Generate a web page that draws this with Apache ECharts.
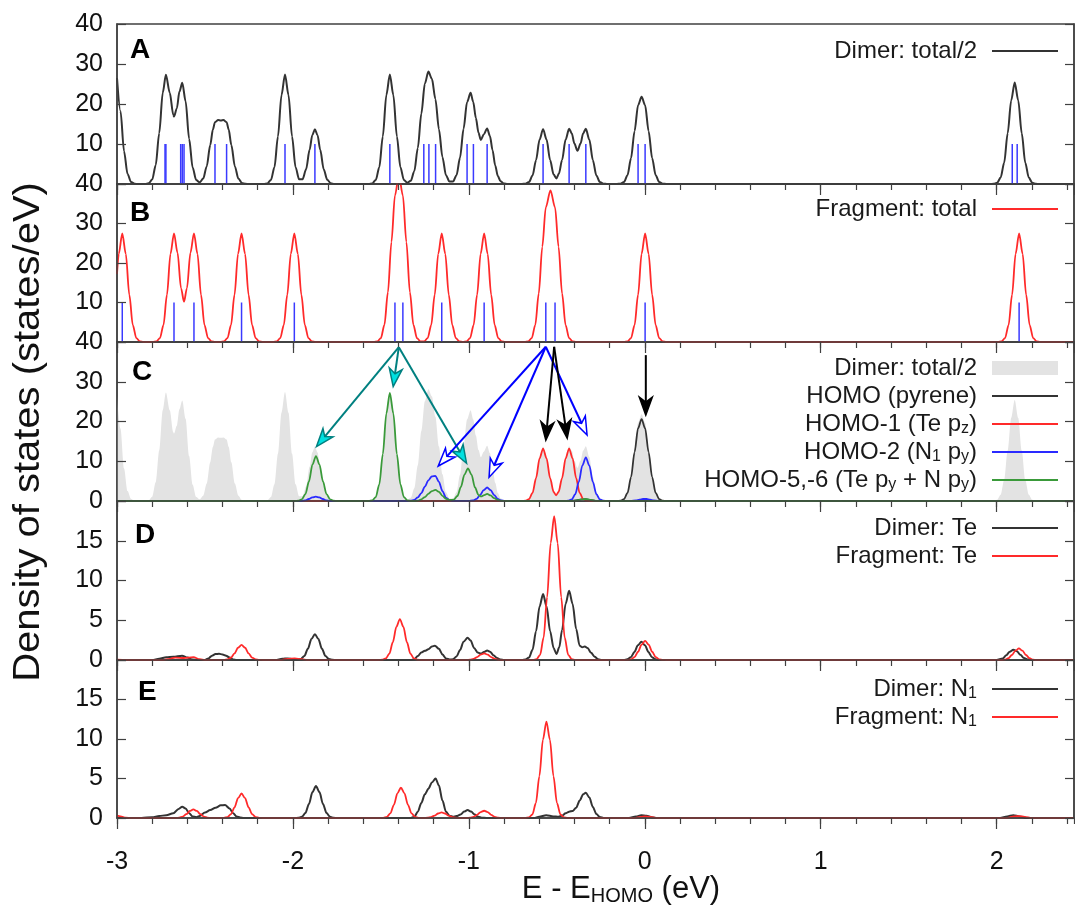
<!DOCTYPE html>
<html>
<head>
<meta charset="utf-8">
<script src="https://cdn.jsdelivr.net/npm/echarts@6/dist/echarts.min.js"></script>
<style>
  html, body { margin: 0; padding: 0; background: #fff; }
  #chart { width: 1075px; height: 910px; }
</style>
</head>
<body>
<div id="chart"></div>
<script>
// DOS curves, [E - E_HOMO (eV), states/eV]
const dimerTotal = [
  [-3.0,26.5],[-2.98,18.2],[-2.96,8.2],[-2.94,2.5],[-2.92,0.5],[-2.90,0.05],[-2.88,0],
  [-2.84,0],[-2.82,0.18],[-2.80,1.1],[-2.78,4.7],[-2.76,12.7],[-2.74,22.8],[-2.722,27.3],[-2.70,22.8],[-2.68,17.3],[-2.676,16.9],[-2.66,18.9],[-2.645,23.1],[-2.629,25.3],[-2.61,20.7],[-2.59,11.3],[-2.57,4.1],[-2.55,1.0],[-2.53,0.42],
  [-2.51,1.35],[-2.49,4.4],[-2.47,9.75],[-2.455,13.6],[-2.443,15.45],[-2.425,16.0],[-2.41,15.9],[-2.395,16.0],[-2.377,15.45],[-2.365,13.6],[-2.35,9.75],[-2.33,4.4],[-2.31,1.35],[-2.29,0.27],[-2.27,0.04],[-2.25,0],
  [-2.165,0],[-2.145,0.15],[-2.125,1.0],[-2.105,4.2],[-2.085,11.9],[-2.065,22.2],[-2.045,27.4],[-2.025,22.2],[-2.005,11.9],[-1.985,4.2],[-1.965,1.2],[-1.945,1.2],[-1.925,3.7],[-1.905,8.6],[-1.89,12.2],[-1.875,13.7],[-1.86,12.2],[-1.845,8.6],[-1.825,3.7],[-1.805,1.07],[-1.785,0.2],[-1.765,0],
  [-1.569,0],[-1.549,0.15],[-1.529,1.0],[-1.509,4.2],[-1.489,11.9],[-1.469,22.2],[-1.449,27.4],[-1.429,22.2],[-1.409,11.9],[-1.389,4.2],[-1.369,1.0],[-1.35,0.3],[-1.33,0.82],[-1.31,3.2],[-1.29,9.0],[-1.27,17.6],[-1.25,25.1],[-1.23,28.1],[-1.21,26.3],[-1.19,21.2],[-1.17,13.7],[-1.15,6.7],[-1.13,2.2],[-1.11,0.6],[-1.09,0.6],
  [-1.07,2.2],[-1.05,6.6],[-1.03,13.8],[-1.01,20.5],[-0.99,22.8],[-0.975,20.5],[-0.96,16.5],[-0.945,12.8],[-0.932,11.0],[-0.915,12.4],[-0.896,13.9],[-0.88,12.0],[-0.865,8.4],[-0.85,4.6],[-0.835,2.0],[-0.82,0.7],[-0.80,0.12],[-0.78,0],
  [-0.698,0],[-0.678,0.08],[-0.658,0.49],[-0.638,2.1],[-0.618,5.96],[-0.598,11.1],[-0.578,13.7],[-0.558,11.1],[-0.538,6.0],[-0.518,2.35],[-0.502,1.4],[-0.488,2.6],[-0.47,6.0],[-0.45,11.1],[-0.43,13.8],[-0.415,12.7],[-0.40,10.1],[-0.3825,8.3],[-0.365,10.1],[-0.35,12.7],[-0.335,13.8],[-0.315,11.1],[-0.295,5.96],[-0.275,2.1],[-0.255,0.49],[-0.235,0.08],[-0.215,0],
  [-0.158,0],[-0.138,0.08],[-0.118,0.5],[-0.098,2.2],[-0.078,6.45],[-0.058,13.2],[-0.038,19.7],[-0.018,21.8],[0.002,19.7],[0.022,13.2],[0.042,6.45],[0.062,2.2],[0.082,0.5],[0.102,0.08],[0.122,0],
  [1.963,0],[1.983,0.04],[2.003,0.3],[2.023,1.6],[2.043,5.3],[2.063,12.7],[2.083,20.9],[2.103,25.4],[2.123,20.9],[2.143,12.7],[2.163,5.3],[2.183,1.6],[2.203,0.3],[2.223,0.04],[2.243,0],[2.44,0]
];

const fragTotal = [
  [-3.0,17.2],[-2.99,22.3],[-2.97,27.5],[-2.95,22.3],[-2.93,11.96],[-2.91,4.24],[-2.89,0.98],[-2.87,0.15],[-2.85,0],
  [-2.796,0],[-2.776,0.15],[-2.756,0.98],[-2.736,4.24],[-2.716,11.96],[-2.696,22.3],[-2.676,27.5],[-2.656,22.6],[-2.636,13.6],[-2.619,10.2],[-2.6025,13.6],[-2.5825,22.6],[-2.5625,27.5],[-2.5425,22.3],[-2.5225,11.96],[-2.5025,4.24],[-2.4825,0.98],[-2.4625,0.15],[-2.4425,0],
  [-2.412,0],[-2.392,0.15],[-2.372,0.98],[-2.352,4.24],[-2.332,11.96],[-2.312,22.3],[-2.292,27.5],[-2.272,22.3],[-2.252,11.96],[-2.232,4.24],[-2.212,0.98],[-2.192,0.15],[-2.172,0],
  [-2.112,0],[-2.092,0.15],[-2.072,0.98],[-2.052,4.24],[-2.032,11.96],[-2.012,22.3],[-1.992,27.5],[-1.972,22.3],[-1.952,11.96],[-1.932,4.24],[-1.912,0.98],[-1.892,0.15],[-1.872,0],
  [-1.54,0],[-1.52,0.15],[-1.50,0.98],[-1.48,4.33],[-1.46,12.6],[-1.44,25.3],[-1.42,37.1],[-1.3975,42.2],[-1.375,37.1],[-1.355,25.3],[-1.335,12.6],[-1.315,4.33],[-1.295,0.98],[-1.275,0.18],[-1.254,0.18],
  [-1.234,0.98],[-1.214,4.24],[-1.194,11.96],[-1.174,22.3],[-1.154,27.5],[-1.134,22.3],[-1.114,11.96],[-1.094,4.24],[-1.074,0.98],[-1.054,0.15],[-1.033,0],
  [-1.013,0.15],[-0.993,0.98],[-0.973,4.24],[-0.953,11.96],[-0.933,22.3],[-0.913,27.5],[-0.893,22.3],[-0.873,11.96],[-0.853,4.24],[-0.833,0.98],[-0.813,0.15],[-0.793,0],
  [-0.6825,0],[-0.6625,0.15],[-0.6425,0.98],[-0.6225,4.28],[-0.6025,12.3],[-0.5825,24.1],[-0.5625,34.1],[-0.536,38.4],[-0.51,34.1],[-0.49,24.1],[-0.47,12.3],[-0.45,4.28],[-0.43,0.98],[-0.41,0.15],[-0.39,0],
  [-0.118,0],[-0.098,0.15],[-0.078,0.98],[-0.058,4.24],[-0.038,11.96],[-0.018,22.3],[0.002,27.5],[0.022,22.3],[0.042,11.96],[0.062,4.24],[0.082,0.98],[0.102,0.15],[0.122,0],
  [2.008,0],[2.028,0.15],[2.048,0.98],[2.068,4.24],[2.088,11.96],[2.108,22.3],[2.128,27.5],[2.148,22.3],[2.168,11.96],[2.188,4.24],[2.208,0.98],[2.228,0.15],[2.248,0],[2.44,0]
];

// eigenvalue sticks (height in states/eV)
const sticksDimer = [-2.727,-2.722,-2.638,-2.629,-2.619,-2.443,-2.377,-2.045,-1.875,-1.449,-1.256,-1.227,-1.189,-1.010,-0.974,-0.896,-0.578,-0.430,-0.335,-0.038,0.002,2.089,2.117];
const sticksFrag = [-2.970,-2.676,-2.5625,-2.292,-1.992,-1.420,-1.375,-1.154,-0.913,-0.5625,-0.510,0.002,2.128];
const stickHeight = 10;

// panel C: orbital projections
const homoPyrene = [
  [-3.0,0],[-0.42,0],[-0.39,0.15],[-0.36,0.4],[-0.335,0.45],[-0.31,0.3],[-0.28,0.05],[-0.25,0],
  [-0.158,0],[-0.138,0.07],[-0.118,0.46],[-0.098,2.04],[-0.078,6.0],[-0.058,12.25],[-0.038,18.3],[-0.018,20.6],[0.002,18.3],[0.022,12.25],[0.042,6.0],[0.062,2.04],[0.082,0.46],[0.102,0.07],[0.122,0],[2.44,0]
];
const homo1Tepz = [
  [-3.0,0],[-0.698,0],[-0.678,0.07],[-0.658,0.48],[-0.638,2.03],[-0.618,5.74],[-0.598,10.7],[-0.578,13.2],[-0.558,10.7],[-0.538,5.74],[-0.518,2.27],[-0.504,1.45],[-0.49,2.27],[-0.47,5.77],[-0.45,10.7],[-0.43,13.2],[-0.41,10.7],[-0.39,5.74],[-0.37,2.03],[-0.35,0.48],[-0.33,0.07],[-0.31,0],[2.44,0]
];
const homo2N1py = [
  [-3.0,0],[-1.95,0],[-1.93,0.15],[-1.91,0.5],[-1.89,0.9],[-1.87,1.1],[-1.85,0.9],[-1.83,0.5],[-1.81,0.15],[-1.79,0],
  [-1.35,0],[-1.33,0.07],[-1.31,0.29],[-1.29,0.9],[-1.27,2.0],[-1.25,3.6],[-1.23,5.2],[-1.21,6.2],[-1.19,6.3],[-1.17,4.8],[-1.15,2.5],[-1.13,0.85],[-1.11,0.2],[-1.09,0.03],
  [-1.0,0.02],[-0.976,0.12],[-0.956,0.52],[-0.936,1.48],[-0.916,2.75],[-0.896,3.4],[-0.876,2.75],[-0.856,1.48],[-0.836,0.52],[-0.816,0.12],[-0.796,0.02],[-0.776,0],
  [-0.455,0],[-0.435,0.06],[-0.415,0.4],[-0.395,1.7],[-0.375,4.8],[-0.355,8.9],[-0.335,11.0],[-0.315,8.9],[-0.295,4.8],[-0.275,1.7],[-0.255,0.4],[-0.235,0.06],[-0.215,0],
  [-0.08,0],[-0.05,0.15],[-0.03,0.35],[-0.01,0.5],[0.01,0.5],[0.03,0.35],[0.05,0.15],[0.08,0],[2.44,0]
];
const homo56 = [
  [-3.0,0],[-1.989,0],[-1.969,0.06],[-1.949,0.41],[-1.929,1.74],[-1.909,4.9],[-1.889,9.15],[-1.869,11.3],[-1.849,9.15],[-1.829,4.9],[-1.809,1.74],[-1.789,0.41],[-1.769,0.06],[-1.749,0],
  [-1.569,0],[-1.549,0.15],[-1.529,0.98],[-1.509,4.2],[-1.489,11.8],[-1.469,22.0],[-1.449,27.2],[-1.429,22.0],[-1.409,11.8],[-1.389,4.2],[-1.369,0.98],[-1.349,0.15],[-1.329,0],
  [-1.31,0],[-1.29,0.1],[-1.27,0.4],[-1.25,1.0],[-1.23,1.8],[-1.21,2.5],[-1.19,2.8],[-1.17,2.3],[-1.15,1.3],[-1.13,0.55],[-1.11,0.25],
  [-1.085,0.35],[-1.065,1.26],[-1.045,3.57],[-1.025,6.64],[-1.005,8.2],[-0.985,6.64],[-0.965,3.4],[-0.945,1.5],[-0.93,1.15],[-0.912,1.5],[-0.896,1.8],[-0.876,1.4],[-0.856,0.7],[-0.836,0.25],[-0.816,0.05],[-0.796,0],
  [-0.43,0],[-0.40,0.05],[-0.37,0.3],[-0.34,0.5],[-0.31,0.3],[-0.28,0.05],[-0.25,0],[2.44,0]
];

// panel D: Te projections
const dimerTe = [
  [-3.0,0],[-2.80,0],[-2.76,0.15],[-2.72,0.35],[-2.68,0.4],[-2.63,0.55],[-2.60,0.3],[-2.57,0.05],[-2.54,0],
  [-2.50,0],[-2.48,0.2],[-2.46,0.55],[-2.44,0.75],[-2.42,0.78],[-2.40,0.7],[-2.38,0.55],[-2.36,0.3],[-2.34,0.05],[-2.32,0],
  [-2.10,0],[-2.06,0.15],[-2.03,0.2],[-2.0,0.12],[-1.975,0.05],[-1.955,0.13],[-1.935,0.5],[-1.915,1.41],[-1.895,2.63],[-1.875,3.25],[-1.855,2.63],[-1.835,1.41],[-1.815,0.5],[-1.795,0.12],[-1.775,0.02],[-1.755,0],
  [-1.33,0],[-1.31,0.1],[-1.29,0.5],[-1.27,0.95],[-1.25,1.15],[-1.23,1.35],[-1.21,1.7],[-1.193,1.8],[-1.17,1.4],[-1.15,0.7],[-1.13,0.2],[-1.11,0.05],
  [-1.09,0.1],[-1.07,0.45],[-1.05,1.25],[-1.03,2.3],[-1.007,2.8],[-0.99,2.45],[-0.97,1.5],[-0.95,0.95],[-0.93,0.8],[-0.91,1.05],[-0.896,1.2],[-0.88,1.05],[-0.86,0.6],[-0.84,0.25],[-0.82,0.05],[-0.80,0],
  [-0.698,0],[-0.678,0.05],[-0.658,0.3],[-0.638,1.28],[-0.618,3.61],[-0.598,6.72],[-0.578,8.3],[-0.558,6.72],[-0.538,3.61],[-0.518,1.5],[-0.502,0.75],[-0.486,1.6],[-0.47,3.78],[-0.45,7.05],[-0.43,8.7],[-0.41,7.05],[-0.39,3.9],[-0.37,1.8],[-0.355,1.6],[-0.341,1.7],[-0.325,1.5],[-0.305,0.9],[-0.285,0.4],[-0.265,0.1],[-0.245,0],
  [-0.139,0],[-0.119,0.01],[-0.099,0.08],[-0.079,0.35],[-0.059,1.0],[-0.039,1.86],[-0.019,2.3],[0.001,1.86],[0.021,1.0],[0.041,0.35],[0.061,0.08],[0.081,0],
  [2.0,0],[2.035,0.2],[2.055,0.6],[2.075,1.05],[2.095,1.3],[2.115,1.1],[2.135,0.65],[2.155,0.25],[2.18,0.05],[2.2,0],[2.44,0]
];
const fragTe = [
  [-3.0,0.05],[-2.95,0],[-2.74,0],[-2.70,0.15],[-2.67,0.3],[-2.62,0.25],[-2.565,0.35],[-2.53,0.1],[-2.50,0],
  [-2.392,0.01],[-2.372,0.07],[-2.352,0.29],[-2.332,0.83],[-2.312,1.54],[-2.292,1.9],[-2.272,1.54],[-2.252,0.83],[-2.232,0.29],[-2.212,0.07],[-2.192,0.01],[-2.17,0],
  [-2.07,0],[-2.03,0.15],[-1.99,0.2],[-1.95,0.1],[-1.92,0],
  [-1.512,0],[-1.492,0.03],[-1.472,0.19],[-1.452,0.79],[-1.432,2.24],[-1.412,4.17],[-1.392,5.15],[-1.372,4.17],[-1.352,2.24],[-1.332,0.79],[-1.312,0.19],[-1.292,0.03],[-1.272,0],
  [-1.013,0],[-0.993,0.03],[-0.973,0.13],[-0.953,0.37],[-0.933,0.68],[-0.913,0.84],[-0.893,0.68],[-0.873,0.37],[-0.853,0.13],[-0.833,0.03],[-0.813,0],
  [-0.635,0],[-0.615,0.1],[-0.595,0.65],[-0.575,2.8],[-0.555,7.9],[-0.535,14.7],[-0.515,18.1],[-0.495,14.7],[-0.475,7.9],[-0.455,2.8],[-0.435,0.65],[-0.415,0.1],[-0.395,0],
  [-0.118,0],[-0.098,0.01],[-0.078,0.09],[-0.058,0.37],[-0.038,1.04],[-0.018,1.94],[0.002,2.4],[0.022,1.94],[0.042,1.04],[0.062,0.37],[0.082,0.09],[0.102,0.01],[0.122,0],
  [2.027,0],[2.047,0.05],[2.067,0.22],[2.087,0.63],[2.107,1.17],[2.127,1.45],[2.147,1.17],[2.167,0.63],[2.187,0.22],[2.207,0.05],[2.227,0],[2.44,0]
];

// panel E: N1 projections
const dimerN1 = [
  [-3.0,0],[-2.86,0],[-2.80,0.1],[-2.76,0.25],[-2.72,0.35],[-2.68,0.6],[-2.65,1.15],[-2.629,1.43],[-2.61,1.2],[-2.59,0.6],[-2.57,0.2],[-2.55,0.1],[-2.53,0.25],[-2.50,0.7],[-2.47,1.0],[-2.44,1.3],[-2.41,1.6],[-2.386,1.65],[-2.36,1.2],[-2.34,0.6],[-2.32,0.2],[-2.30,0.05],[-2.28,0],
  [-1.989,0],[-1.969,0.02],[-1.949,0.15],[-1.929,0.62],[-1.909,1.76],[-1.889,3.28],[-1.869,4.05],[-1.849,3.28],[-1.829,1.76],[-1.809,0.62],[-1.789,0.15],[-1.769,0.02],[-1.749,0],
  [-1.33,0],[-1.31,0.15],[-1.29,0.8],[-1.27,1.9],[-1.25,3.0],[-1.23,3.7],[-1.21,4.5],[-1.189,5.0],[-1.17,4.1],[-1.15,2.2],[-1.13,0.8],[-1.11,0.3],[-1.09,0.15],
  [-1.07,0.25],[-1.047,0.44],[-1.027,0.81],[-1.007,1.0],[-0.987,0.81],[-0.967,0.44],[-0.947,0.15],[-0.927,0.04],[-0.9,0],
  [-0.63,0],[-0.60,0.15],[-0.56,0.35],[-0.52,0.2],[-0.49,0.15],[-0.47,0.3],[-0.45,0.6],[-0.43,0.8],[-0.41,0.9],[-0.39,1.3],[-0.37,2.2],[-0.35,3.0],[-0.335,3.2],[-0.315,2.6],[-0.295,1.4],[-0.275,0.5],[-0.255,0.12],[-0.235,0],
  [-0.09,0],[-0.05,0.2],[-0.02,0.35],[0.01,0.3],[0.04,0.1],[0.07,0],
  [2.02,0],[2.06,0.2],[2.095,0.35],[2.13,0.2],[2.17,0],[2.44,0]
];
const fragN1 = [
  [-3.0,0.3],[-2.98,0.2],[-2.95,0.05],[-2.92,0],
  [-2.666,0],[-2.646,0.04],[-2.626,0.17],[-2.606,0.48],[-2.586,0.89],[-2.566,1.1],[-2.546,0.89],[-2.526,0.48],[-2.506,0.17],[-2.486,0.04],[-2.466,0.01],
  [-2.412,0],[-2.392,0.02],[-2.372,0.11],[-2.352,0.48],[-2.332,1.35],[-2.312,2.51],[-2.292,3.1],[-2.272,2.51],[-2.252,1.35],[-2.232,0.48],[-2.212,0.11],[-2.192,0.02],[-2.172,0],
  [-1.506,0],[-1.486,0.02],[-1.466,0.14],[-1.446,0.59],[-1.426,1.67],[-1.406,3.12],[-1.386,3.85],[-1.366,3.12],[-1.346,1.67],[-1.326,0.59],[-1.306,0.14],[-1.286,0.02],[-1.266,0],
  [-1.255,0],[-1.235,0.03],[-1.215,0.11],[-1.195,0.3],[-1.175,0.57],[-1.155,0.7],[-1.135,0.57],[-1.115,0.3],[-1.095,0.11],[-1.075,0.03],[-1.055,0],
  [-1.013,0],[-0.993,0.03],[-0.973,0.14],[-0.953,0.4],[-0.933,0.75],[-0.913,0.92],[-0.893,0.75],[-0.873,0.4],[-0.853,0.14],[-0.833,0.03],[-0.813,0],
  [-0.679,0],[-0.659,0.07],[-0.639,0.44],[-0.619,1.88],[-0.599,5.3],[-0.579,9.9],[-0.559,12.2],[-0.539,9.9],[-0.519,5.3],[-0.499,1.88],[-0.479,0.44],[-0.459,0.07],[-0.439,0],
  [-0.06,0],[-0.02,0.15],[0.0,0.2],[0.03,0.15],[0.07,0],
  [2.06,0],[2.1,0.2],[2.127,0.25],[2.16,0.15],[2.2,0],[2.44,0]
];

// annotation arrows in panel C: [fromE, fromY, toE, toY]
const arrowsTeal = [[-1.398,38.7,-1.866,13.7],[-1.398,38.7,-1.43,28.8],[-1.398,38.7,-1.013,9.5]];
const arrowsBlue = [[-0.5625,38.8,-1.174,8.8],[-0.5625,38.8,-0.885,6.0],[-0.5625,38.8,-0.328,16.6]];
const arrowsBlack = [[-0.515,38.8,-0.5625,15.3],[-0.515,38.8,-0.441,15.8],[0.006,36.7,0.006,21.6]];

const FONT = '"Liberation Sans", Arial, Helvetica, sans-serif';
const AXIS = '#404040';
const LINE_ICON = 'path://M0,0L66,0L66,1.8L0,1.8Z';

const panels = [
  { top: 24,  height: 160, max: 40, step: 10, hide: [0] },
  { top: 184, height: 158, max: 40, step: 10, hide: [0] },
  { top: 342, height: 159, max: 40, step: 10, hide: [] },
  { top: 501, height: 159, max: 20, step: 5,  hide: [20] },
  { top: 660, height: 158, max: 20, step: 5,  hide: [20] }
];

const grid = [], xAxis = [], yAxis = [];
panels.forEach(function (p, i) {
  grid.push({ left: 117, width: 957, top: p.top, height: p.height, show: true,
    borderColor: AXIS, borderWidth: 1.5, backgroundColor: 'transparent' });
  // minor ticks every 0.2 eV
  xAxis.push({ gridIndex: i, type: 'value', position: 'bottom', min: -3, max: 2.44, interval: 0.2, z: 5,
    axisLine: { show: true, onZero: false, lineStyle: { color: AXIS, width: 1.5 } },
    axisTick: { length: 6, lineStyle: { color: AXIS, width: 1.2 } },
    axisLabel: { show: false }, splitLine: { show: false } });
  // major ticks every 1 eV
  xAxis.push({ gridIndex: i, type: 'value', position: 'bottom', min: -3, max: 2.44, interval: 1, z: 5,
    axisLine: { show: false, onZero: false },
    axisTick: { length: 11, lineStyle: { color: AXIS, width: 1.2 } },
    axisLabel: i === 4 ? { show: true, fontSize: 25, fontFamily: FONT, color: '#111', margin: 32,
      showMaxLabel: false, formatter: function (v) { return Math.abs(v - Math.round(v)) < 1e-6 ? String(Math.round(v)) : ''; } }
      : { show: false },
    splitLine: { show: false } });
  yAxis.push({ gridIndex: i, type: 'value', position: 'left', min: 0, max: p.max, interval: p.step, z: 5,
    axisLine: { show: true, onZero: false, lineStyle: { color: AXIS, width: 1.5 } },
    axisTick: { inside: true, length: 9, lineStyle: { color: AXIS, width: 1.2 } },
    axisLabel: { fontSize: 25, fontFamily: FONT, color: '#111', margin: 14, showMinLabel: true, showMaxLabel: true,
      formatter: function (v) { return p.hide.indexOf(v) >= 0 ? '' : String(v); } },
    splitLine: { show: false } });
  yAxis.push({ gridIndex: i, type: 'value', position: 'right', min: 0, max: p.max, interval: p.step, z: 5,
    axisLine: { show: true, onZero: false, lineStyle: { color: AXIS, width: 1.5 } },
    axisTick: { inside: true, length: 9, lineStyle: { color: AXIS, width: 1.2 } },
    axisLabel: { show: false }, splitLine: { show: false } });
});

function curve(name, data, panel, color, width) {
  return { name: name, type: 'line', data: data, xAxisIndex: panel * 2, yAxisIndex: panel * 2,
    symbol: 'none', smooth: 0.3, smoothMonotone: 'x', clip: true, z: 3,
    lineStyle: { color: color, width: width }, itemStyle: { color: color } };
}

function sticks(data, panel) {
  return { type: 'custom', xAxisIndex: panel * 2, yAxisIndex: panel * 2, z: 4,
    data: data.map(function (x) { return [x, stickHeight]; }),
    renderItem: function (params, api) {
      const p0 = api.coord([api.value(0), 0]);
      const p1 = api.coord([api.value(0), api.value(1)]);
      return { type: 'line', shape: { x1: p0[0], y1: p0[1], x2: p1[0], y2: p1[1] },
        style: { stroke: '#3a3aff', lineWidth: 1.5 } };
    } };
}

function arrows(data, stroke, fill) {
  return { type: 'custom', xAxisIndex: 4, yAxisIndex: 4, z: 6, data: data,
    renderItem: function (params, api) {
      const a = api.coord([api.value(0), api.value(1)]);
      const b = api.coord([api.value(2), api.value(3)]);
      const dx = b[0] - a[0], dy = b[1] - a[1];
      const len = Math.sqrt(dx * dx + dy * dy);
      const ux = dx / len, uy = dy / len, nx = -uy, ny = ux;
      const L = 18, W = 6.5;
      const bx = b[0] - ux * L, by = b[1] - uy * L;
      const kx = b[0] - ux * L * 0.72, ky = b[1] - uy * L * 0.72;
      return { type: 'group', children: [
        { type: 'line', shape: { x1: a[0], y1: a[1], x2: kx, y2: ky }, style: { stroke: stroke, lineWidth: 2 } },
        { type: 'polygon', shape: { points: [[b[0], b[1]], [bx + nx * W, by + ny * W], [kx, ky], [bx - nx * W, by - ny * W]] },
          style: { fill: fill, stroke: stroke, lineWidth: 1.5 } }
      ] };
    } };
}

const legendText = {
  dimA: 'Dimer: total/2',
  fragB: 'Fragment: total',
  dimC: 'Dimer: total/2',
  homo: 'HOMO (pyrene)',
  homo1: 'HOMO-1 (Te p{s|z})',
  homo2: 'HOMO-2 (N{s|1} p{s|y})',
  homo56: 'HOMO-5,-6 (Te p{s|y} + N p{s|y})',
  dimTe: 'Dimer: Te',
  fragTe: 'Fragment: Te',
  dimN: 'Dimer: N{s|1}',
  fragN: 'Fragment: N{s|1}'
};

function lineItem(name) { return { name: name, icon: LINE_ICON }; }

function legend(top, data) {
  return { top: top, right: 17, orient: 'vertical', align: 'right', padding: 0,
    itemWidth: 66, itemHeight: 14, itemGap: 0, selectedMode: false, data: data,
    formatter: function (n) { return legendText[n]; },
    textStyle: { fontSize: 24, fontFamily: FONT, color: '#1a1a1a', lineHeight: 28, padding: [0, 10, 0, 0],
      rich: { s: { fontSize: 16, fontFamily: FONT, color: '#1a1a1a', padding: [10, 0, 0, 0] } } } };
}

const letters = [['A', 130, 50], ['B', 130, 213], ['C', 132, 372], ['D', 135, 535], ['E', 138, 692]];

const chart = echarts.init(document.getElementById('chart'), null, { renderer: 'canvas' });
chart.setOption({
  animation: false,
  backgroundColor: '#fff',
  grid: grid,
  xAxis: xAxis,
  yAxis: yAxis,
  legend: [
    legend(37, [lineItem('dimA')]),
    legend(195, [lineItem('fragB')]),
    legend(354, [{ name: 'dimC', icon: 'rect', itemStyle: { color: '#e3e3e3', borderWidth: 0 } },
      lineItem('homo'), lineItem('homo1'), lineItem('homo2'), lineItem('homo56')]),
    legend(514, [lineItem('dimTe'), lineItem('fragTe')]),
    legend(675, [lineItem('dimN'), lineItem('fragN')])
  ],
  graphic: letters.map(function (l) {
    return { type: 'text', x: l[1], y: l[2], z: 10,
      style: { text: l[0], font: 'bold 28px ' + FONT, fill: '#000', align: 'left', verticalAlign: 'middle' } };
  }).concat([
    { type: 'text', x: 29, y: 432, rotation: Math.PI / 2, scaleX: 1.08, z: 10,
      style: { text: 'Density of states (states/eV)', font: '37px ' + FONT, fill: '#111', align: 'center', verticalAlign: 'middle' } },
    { type: 'text', x: 621, y: 889, z: 10,
      style: { text: '{m|E - E}{s|HOMO}{m| (eV)}', align: 'center', verticalAlign: 'middle', fill: '#111',
        rich: { m: { fontSize: 31, fontFamily: FONT, fill: '#111', lineHeight: 34 },
                s: { fontSize: 20, fontFamily: FONT, fill: '#111', padding: [14, 0, 0, 0] } } } }
  ]),
  series: [
    curve('dimA', dimerTotal, 0, '#333333', 2),
    sticks(sticksDimer, 0),
    curve('fragB', fragTotal, 1, '#ff2a2a', 1.8),
    sticks(sticksFrag, 1),
    { name: 'dimC', type: 'line', data: dimerTotal, xAxisIndex: 4, yAxisIndex: 4, symbol: 'none',
      smooth: 0.3, smoothMonotone: 'x', z: 1, lineStyle: { width: 0, color: '#e3e3e3' },
      itemStyle: { color: '#e3e3e3' }, areaStyle: { color: '#e3e3e3', opacity: 1 } },
    curve('homo', homoPyrene, 2, '#333333', 1.8),
    curve('homo1', homo1Tepz, 2, '#ff2a2a', 1.8),
    curve('homo2', homo2N1py, 2, '#2a2aff', 1.8),
    curve('homo56', homo56, 2, '#3a9a3a', 1.8),
    arrows(arrowsTeal, '#008080', '#00e0e0'),
    arrows(arrowsBlue, '#0000ff', '#ffffff'),
    arrows(arrowsBlack, '#000000', '#000000'),
    curve('dimTe', dimerTe, 3, '#333333', 2),
    curve('fragTe', fragTe, 3, '#ff2a2a', 1.8),
    curve('dimN', dimerN1, 4, '#333333', 2),
    curve('fragN', fragN1, 4, '#ff2a2a', 1.8)
  ]
});
</script>
</body>
</html>
